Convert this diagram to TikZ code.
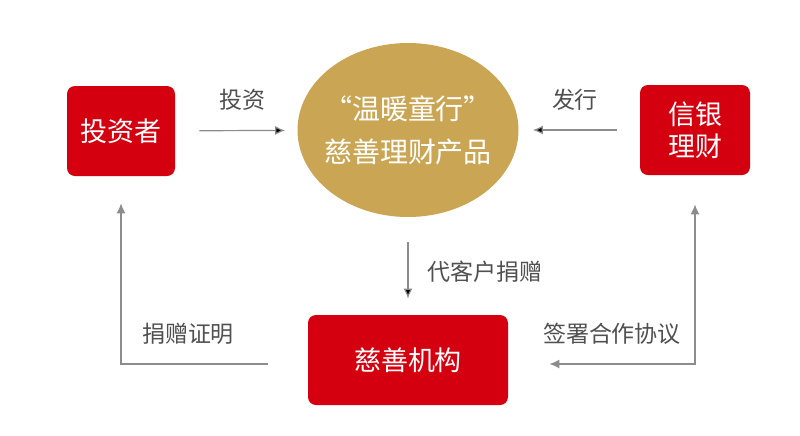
\documentclass[tikz,border=0pt]{standalone}
\usepackage{fontspec}
\setmainfont{Noto Sans CJK SC}
\usetikzlibrary{shapes.geometric, positioning, arrows.meta}

\definecolor{boxred}{RGB}{213,0,15}
\definecolor{gold}{RGB}{201,165,84}
\definecolor{linegray}{RGB}{140,140,140}
\definecolor{textgray}{RGB}{80,80,80}

\tikzset{
  party/.style={draw=none, fill=boxred, rounded corners=4pt, text=white,
    font=\fontsize{13.5pt}{16pt}\selectfont, align=center, inner sep=0pt},
  product/.style={ellipse, fill=gold, text=white, inner xsep=-3.5pt, inner ysep=0pt,
    minimum width=110.5pt, minimum height=87pt, align=center,
    font=\fontsize{14pt}{21.5pt}\selectfont},
  flowlbl/.style={text=textgray, font=\fontsize{11.5pt}{14pt}\selectfont, inner sep=0pt},
  flow/.style={draw=linegray, line width=0.6pt, -{Latex[length=5pt,width=4.5pt]}}
}

\begin{document}
\begin{tikzpicture}[x=0.5pt, y=-0.5pt]
  \useasboundingbox[fill=white] (0,0) rectangle (800,435);

  \node[party, minimum width=54pt, minimum height=45pt] (inv) at (121,131) {投资者};
  \node[product] (prod) at (408,130) {“温暖童行”\\慈善理财产品};
  \node[party, minimum width=55pt, minimum height=45pt] (bank) at (695,130) {信银\\理财};
  \node[party, minimum width=100pt, minimum height=45pt] (org) at (408,360) {慈善机构};

  \node[flowlbl] (lbl1) at (243,100) {投资};
  \node[flowlbl] (lbl2) at (575,100) {发行};
  \node[flowlbl, anchor=west] (lbl3) at (427,272) {代客户捐赠};
  \node[flowlbl] (lbl4) at (188,334) {捐赠证明};
  \node[flowlbl] (lbl5) at (612,334) {签署合作协议};

    \path[flow]
    (inv) edge[shorten <=12pt, shorten >=6pt] (prod)
        (bank) edge[shorten <=11.5pt, shorten >=7pt] (prod)
    (prod) edge[shorten <=12.5pt, shorten >=8pt] (org);

  \draw[flow, shorten <=20pt, shorten >=13.5pt] ([yshift=-2pt]org.west) -| (inv.south);
  \draw[flow, {Latex[length=5pt,width=4.5pt]}-{Latex[length=5pt,width=4.5pt]},
    shorten <=20.5pt, shorten >=14.5pt] ([yshift=-2pt]org.east) -| (bank.south);
\end{tikzpicture}
\end{document}
